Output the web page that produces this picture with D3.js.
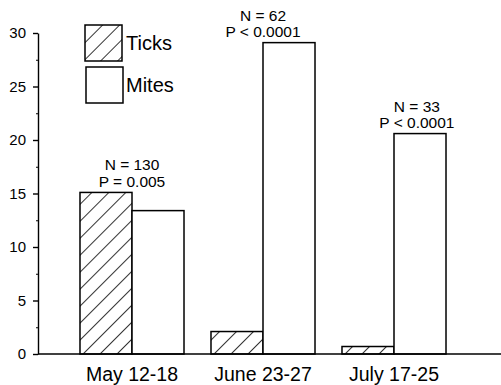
<!DOCTYPE html>
<html>
<head>
<meta charset="utf-8">
<script src="https://cdn.jsdelivr.net/npm/d3@7"></script>
<style>
  body { margin: 0; background: #fff; }
  text { font-family: "Liberation Sans", Arial, Helvetica, sans-serif; fill: #000; }
</style>
</head>
<body>
<div id="chart"></div>
<script>
// data
let periods = ["May 12-18", "June 23-27", "July 17-25"];
let series = ["Ticks", "Mites"];
let ticksValues = [15.1, 2.1, 0.7];
let mitesValues = [13.4, 29.1, 20.6];
let nLabels = ["N = 130", "N = 62", "N = 33"];
let pLabels = ["P = 0.005", "P < 0.0001", "P < 0.0001"];
let yTicks = [0, 5, 10, 15, 20, 25, 30];

let width = 501, height = 385;
let margin = {top: 33, right: 0, bottom: 31, left: 38};

let svg = d3.select("#chart")
    .append("svg")
    .attr("width", width)
    .attr("height", height);

// hatch pattern for the ticks bars
let defs = svg.append("defs");
defs.append("pattern")
    .attr("id", "hatch")
    .attr("patternUnits", "userSpaceOnUse")
    .attr("width", 12)
    .attr("height", 12)
    .attr("patternTransform", "rotate(45)")
    .append("line")
    .attr("x1", 0).attr("y1", 0)
    .attr("x2", 0).attr("y2", 12)
    .attr("stroke", "#000")
    .attr("stroke-width", 1.6);

let y = d3.scaleLinear()
    .domain([0, 30])
    .range([height - margin.bottom, margin.top]);

let x = d3.scaleBand()
    .domain(periods)
    .range([66.5, 459.5])
    .paddingInner(0.206)
    .paddingOuter(0.103);

let xSub = d3.scaleBand()
    .domain(series)
    .range([0, x.bandwidth()]);

let rows = periods.map((p, i) => ({period: p, values: [
    {key: "Ticks", value: ticksValues[i]},
    {key: "Mites", value: mitesValues[i]}
]}));

// bars
let groups = svg.selectAll(".group")
    .data(rows)
    .enter()
    .append("g")
    .attr("class", "group")
    .attr("transform", d => "translate(" + x(d.period) + ",0)");

groups.selectAll("rect")
    .data(d => d.values)
    .enter()
    .append("rect")
    .attr("x", d => xSub(d.key))
    .attr("y", d => y(d.value))
    .attr("width", xSub.bandwidth())
    .attr("height", d => y(0) - y(d.value))
    .attr("fill", d => d.key === "Ticks" ? "url(#hatch)" : "#fff")
    .attr("stroke", "#000")
    .attr("stroke-width", 1.5);

// y axis with minor ticks
svg.append("g")
    .attr("class", "axis y-axis")
    .attr("transform", "translate(" + margin.left + ",0)")
    .call(d3.axisLeft(y).tickValues(d3.range(2.5, 30, 5)).tickSize(2).tickFormat(""))
    .call(g => g.select(".domain").remove());

svg.append("g")
    .attr("class", "axis y-axis")
    .attr("transform", "translate(" + margin.left + ",0)")
    .call(d3.axisLeft(y).tickValues(yTicks).tickSize(5).tickSizeOuter(0).tickPadding(7))
    .call(g => g.selectAll("text").style("font-size", "15px"))
    .call(g => g.selectAll("line, path").attr("stroke", "#000").attr("stroke-width", 1.4));

// x axis line runs to the right edge
svg.append("line")
    .attr("x1", margin.left)
    .attr("x2", width)
    .attr("y1", y(0))
    .attr("y2", y(0))
    .attr("stroke", "#000")
    .attr("stroke-width", 1.5);

svg.selectAll(".x-label")
    .data(periods)
    .enter()
    .append("text")
    .attr("class", "x-label")
    .attr("x", d => x(d) + x.bandwidth() / 2)
    .attr("y", 381)
    .style("text-anchor", "middle")
    .style("font-size", "19.5px")
    .text(d => d);

// N / P annotations above each group
let annoShift = [0.5, 0.5, 0.72];
periods.forEach((p, i) => {
    let top = y(Math.max(ticksValues[i], mitesValues[i]));
    let cx = x(p) + x.bandwidth() * annoShift[i];
    svg.append("text")
        .attr("x", cx)
        .attr("y", top - 22)
        .style("text-anchor", "middle")
        .style("font-size", "15.5px")
        .text(nLabels[i]);
    svg.append("text")
        .attr("x", cx)
        .attr("y", top - 5.5)
        .style("text-anchor", "middle")
        .style("font-size", "15.5px")
        .text(pLabels[i]);
});

// legend
let legend = svg.append("g").attr("transform", "translate(85,25)");
series.forEach((s, i) => {
    legend.append("rect")
        .attr("x", i * 1)
        .attr("y", i * 42)
        .attr("width", 37)
        .attr("height", 36)
        .attr("fill", s === "Ticks" ? "url(#hatch)" : "#fff")
        .attr("stroke", "#000")
        .attr("stroke-width", 1.5);
    legend.append("text")
        .attr("x", 41)
        .attr("y", 25 + i * 42)
        .style("font-size", "20px")
        .text(s);
});
</script>
</body>
</html>
